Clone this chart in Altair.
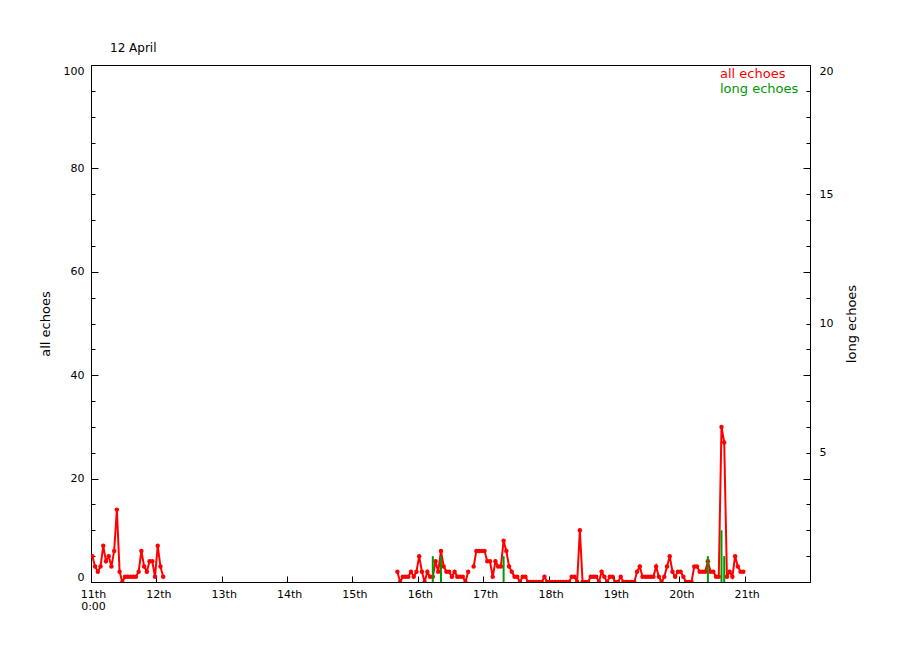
import altair as alt
import pandas as pd

# ---------------- data (hourly counts, hours since 11th 0:00) ----------------
day_labels = ["11th", "12th", "13th", "14th", "15th", "16th", "17th", "18th", "19th", "20th", "21th"]

all_start_a = 0
all_echoes_a = [5, 3, 2, 3, 7, 4, 5, 3, 6, 14, 2, 0, 1, 1, 1, 1, 1, 2, 6, 3, 2, 4, 4, 1, 7, 3, 1]

all_start_b = 112
all_echoes_b = [
    # 112 - 131
    2, 0, 1, 1, 1, 2, 1, 2, 5, 2, 0, 2, 1, 1, 4, 2, 6, 3, 2, 2,
    # 132 - 151
    1, 2, 1, 1, 1, 0, 2, None, 3, 6, 6, 6, 6, 4, 4, 1, 4, 3, 3, 8,
    # 152 - 171
    6, 3, 2, 1, 1, 0, 1, 1, 0, 0, 0, 0, 0, 0, 1, 0, 0, 0, 0, 0,
    # 172 - 191
    0, 0, 0, 0, 1, 1, 0, 10, 0, 0, 0, 1, 1, 1, 0, 2, 1, 0, 1, 1,
    # 192 - 211
    0, 0, 1, 0, 0, 0, 0, 0, 2, 3, 1, 1, 1, 1, 1, 3, 1, 0, 1, 3,
    # 212 - 231
    5, 2, 1, 2, 2, 1, 0, 0, 0, 3, 3, 2, 2, 2, 4, 2, 2, 1, 1, 30,
    # 232 - 239
    27, 1, 2, 1, 5, 3, 2, 2,
]

long_hours = [125, 128, 151, 226, 231, 232]
long_echoes = [1, 1, 1, 1, 2, 1]

# ---------------- tables ----------------
rows = []
seg = 0
for start, vals in [(all_start_a, all_echoes_a), (all_start_b, all_echoes_b)]:
    seg += 1
    for i, v in enumerate(vals):
        if v is None:
            seg += 1
            continue
        rows.append({"hour": start + i + 0.5, "all": v, "seg": seg, "series": "all echoes"})
red = pd.DataFrame(rows)
green = pd.DataFrame({"hour": [h + 0.5 for h in long_hours], "long": long_echoes,
                      "series": "long echoes"})

W, H = 719, 517
FONT = "DejaVu Sans"

xscale = alt.Scale(domain=[0, 264], nice=False, zero=False)
yscale = alt.Scale(domain=[0, 100], nice=False)
day_vals = list(range(0, 241, 24))
minor_vals = list(range(0, 101, 5))
major_vals = list(range(0, 101, 20))

color = alt.Color(
    "series:N",
    scale=alt.Scale(domain=["all echoes", "long echoes"], range=["#ff0000", "#009a00"]),
    legend=alt.Legend(
        title=None, orient="none", legendX=616, legendY=2,
        symbolOpacity=0, symbolSize=0, symbolStrokeWidth=0, labelOffset=0,
        labelFont=FONT, labelFontSize=13, rowPadding=1,
        labelColor={"expr": "datum.label == 'all echoes' ? '#ff0000' : '#009a00'"},
    ),
)

def tick_axis(orient, values, size):
    return alt.Axis(orient=orient, offset=-W, values=values, tickSize=size, labels=False,
                    domain=False, grid=False, title=None, tickColor="black")

x_labels = alt.Axis(
    values=day_vals, ticks=False, domain=True, domainColor="black", grid=False, title=None,
    labelExpr="datum.value == 0 ? ['11th', '0:00'] : (11 + datum.value / 24) + 'th'",
    labelPadding=6, labelFont=FONT, labelFontSize=11, labelColor="black",
    labelOverlap=False, labelFlush=False, labelLineHeight=12, labelOffset=2,
)
x_ticks = alt.Axis(orient="top", offset=-H, values=day_vals, tickSize=6, labels=False,
                   domain=False, grid=False, title=None, tickColor="black")
x_top = alt.Axis(orient="top", ticks=False, labels=False, domain=True, domainColor="black",
                 grid=False, title=None)

yl_labels = alt.Axis(
    orient="left", values=major_vals, ticks=False, domain=True, domainColor="black", grid=False,
    labelPadding=7, labelFlush=True, labelFont=FONT, labelFontSize=11, labelColor="black",
    title="all echoes", titleFont=FONT, titleFontSize=13, titleFontWeight="normal",
    titleColor="black", titleX=-46, titleY=H / 2, titleAngle=270, titleBaseline="middle",
    titleAlign="center",
)
yr_labels = alt.Axis(
    orient="right", values=[25, 50, 75, 100], labelExpr="datum.value / 5",
    ticks=False, domain=True, domainColor="black", grid=False,
    labelPadding=9, labelFlush=True, labelFont=FONT, labelFontSize=11, labelColor="black",
    title="long echoes", titleFont=FONT, titleFontSize=13, titleFontWeight="normal",
    titleColor="black", titleX=41, titleY=H / 2, titleAngle=270, titleBaseline="middle",
    titleAlign="center",
)

red_line = alt.Chart(red).mark_line(strokeWidth=2, clip=True).encode(
    x=alt.X("hour:Q", scale=xscale, axis=x_labels),
    y=alt.Y("all:Q", scale=yscale, axis=yl_labels),
    detail="seg:N",
    color=color,
)
red_pts = alt.Chart(red).mark_circle(size=20, opacity=1, clip=True, color="#ff0000").encode(
    x=alt.X("hour:Q", scale=xscale, axis=x_ticks),
    y=alt.Y("all:Q", scale=yscale, axis=tick_axis("right", major_vals, 7)),
)
green_bars = alt.Chart(green).transform_calculate(
    long5="datum.long * 5", zero="0"
).mark_rule(strokeWidth=2, clip=True).encode(
    x=alt.X("hour:Q", scale=xscale, axis=x_top),
    y=alt.Y("long5:Q", scale=yscale, axis=yr_labels),
    y2="zero:Q",
    color=color,
)

def dummy(axis):
    return alt.Chart(red).mark_point(opacity=0).encode(
        x=alt.X("hour:Q", scale=xscale, axis=None),
        y=alt.Y("all:Q", scale=yscale, axis=axis),
    )

chart = alt.layer(
    red_line, red_pts, green_bars,
    dummy(tick_axis("right", minor_vals, 4)),
    dummy(tick_axis("left", major_vals, 7)),
    dummy(tick_axis("left", minor_vals, 4)),
).resolve_axis(x="independent", y="independent").properties(
    width=W, height=H,
    title=alt.TitleParams("12 April", anchor="start", frame="group", dx=19, offset=10,
                          font=FONT, fontSize=12, fontWeight="normal", color="black"),
    autosize=alt.AutoSizeParams(type="none"),
    padding={"left": 83, "top": 57, "right": 82, "bottom": 60},
).configure_view(strokeWidth=0).configure(background="white")

chart.save("out.html", embed_options={"renderer": "svg", "actions": False})
